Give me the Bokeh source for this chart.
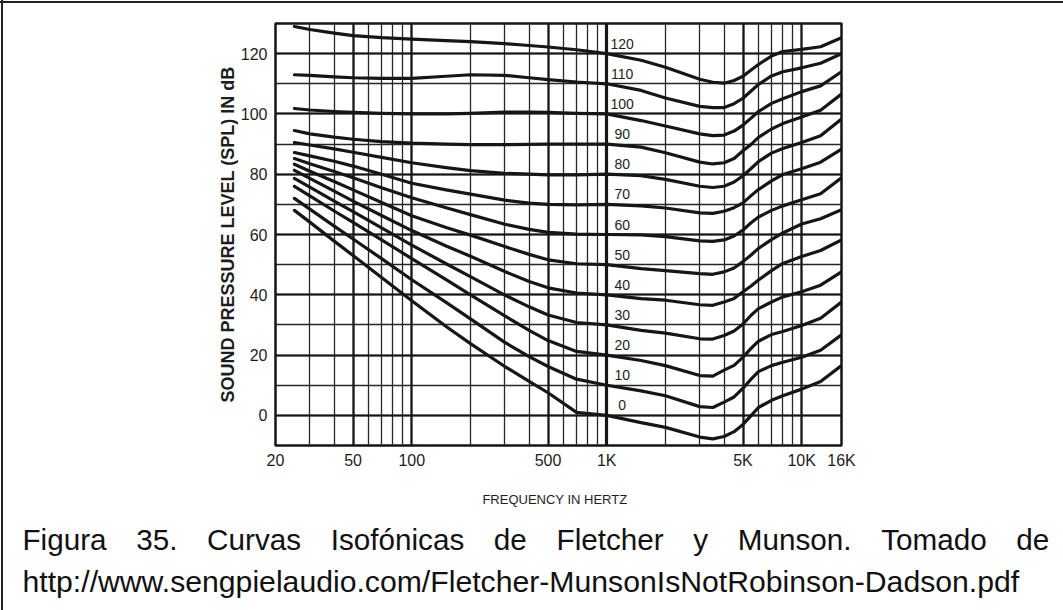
from bokeh.plotting import figure
from bokeh.models import Range1d, FixedTicker, Grid, Title, CustomJSTickFormatter
from bokeh.core.properties import value
from bokeh.embed import file_html
from bokeh.resources import INLINE

# ---------------- data ----------------
freqs = [25, 30, 40, 50, 70, 100, 150, 200, 300, 400, 500, 700, 1000,
         1500, 2000, 3000, 3500, 4000, 4500, 5000, 5500, 6000, 7000, 8000, 10000, 12500, 16000]

phon_120 = [129, 128, 126.8, 126, 125.3, 124.8, 124.3, 124, 123.3, 122.7, 122.2, 121.3, 120,
            117.8, 115.5, 111.5, 110.5, 110.2, 111.1, 112.5, 114.6, 116.4, 119.2, 120.7, 121.4, 122.3, 125.3]
phon_110 = [113, 112.8, 112.3, 112, 111.8, 111.8, 112.5, 113, 112.8, 112, 111.4, 110.6, 110,
            107.8, 105.3, 102.5, 102.1, 102.1, 103.4, 105.2, 107.6, 109.8, 112.6, 114, 115.3, 116.8, 120]
phon_100 = [101.8, 101.3, 100.8, 100.5, 100.2, 100, 100, 100.2, 100.6, 100.6, 100.5, 100.2, 100,
            97.8, 96, 93.4, 92.8, 93, 94.3, 96.3, 98.6, 100.8, 103.5, 105, 107.4, 109.3, 114]
phon_90 = [94.5, 93.4, 92.3, 91.6, 90.8, 90.3, 90, 89.8, 89.8, 89.9, 90, 90, 90,
           89, 87.1, 84, 83.4, 83.8, 85.2, 87.8, 89.9, 92.2, 95, 96.8, 99, 101.2, 106.6]
phon_80 = [90.5, 89.7, 88.4, 87.3, 85.6, 83.8, 82.2, 81.2, 80.3, 80, 79.8, 79.8, 80,
           79.5, 78.3, 76, 75.6, 76, 77.4, 79.5, 81.9, 84.2, 87, 88.5, 90.5, 92.8, 98.3]
phon_70 = [87.2, 86.1, 84.3, 82.7, 80, 77, 74.8, 73.4, 71.4, 70.4, 70, 69.8, 70,
           69.5, 68.8, 67.2, 67, 67.7, 68.9, 70.5, 72.9, 74.9, 77.8, 79.9, 81.8, 84, 88.3]
phon_60 = [85.2, 83.5, 80.9, 78.8, 75.5, 72.2, 68.9, 66.6, 63.4, 61.7, 60.7, 60.1, 60,
           59.9, 59.3, 57.9, 57.7, 58.2, 59.5, 61.5, 63.9, 65.8, 68, 69.5, 71.5, 73.5, 78.8]
phon_50 = [83.3, 81, 77.6, 74.8, 70.6, 66.2, 62.3, 59.8, 56, 53.4, 51.6, 50.3, 50,
           48.7, 48, 47, 46.8, 47.6, 48.9, 51, 53.2, 55.4, 58.3, 60.5, 63.5, 65.2, 68.2]
phon_40 = [81.3, 78.6, 74.4, 71.1, 66.3, 61.3, 56.2, 52.8, 47.7, 44.4, 42.3, 40.6, 40,
           38.7, 38.2, 36.7, 36.5, 37.6, 38.8, 41, 42.9, 44.9, 48, 50.4, 52.7, 54.7, 58.2]
phon_30 = [78.6, 75.7, 71.1, 67.6, 62.2, 56.5, 50.3, 46, 39.9, 36, 33.3, 30.8, 30,
           28.2, 27.3, 25.4, 25.3, 26.5, 28, 30.3, 33.2, 35.4, 37.6, 39.3, 41, 43.2, 47.6]
phon_20 = [76, 72.8, 67.8, 64, 58.2, 52, 45, 40, 33, 28.2, 24.8, 21.2, 20,
           18.2, 16.5, 13.2, 13, 15, 16.6, 19.3, 22.2, 24.6, 26.8, 27.8, 29.8, 32.2, 37.6]
phon_10 = [72, 68.4, 62.8, 58.5, 52, 45, 37.5, 32, 24.2, 19.5, 16.2, 12, 10,
           8.1, 6.5, 2.9, 2.6, 4.4, 6.1, 9, 12, 14.5, 16.5, 17.6, 19.3, 21.6, 26.7]
phon_0 = [68, 64.1, 57.8, 53, 45.7, 38, 29.5, 23.8, 16.2, 11.3, 7.5, 1, 0,
          -2.4, -4, -7.2, -7.8, -7, -5.4, -3, -0.1, 2.6, 5, 6.5, 8.7, 11.2, 16.5]

curves = [(120, phon_120), (110, phon_110), (100, phon_100), (90, phon_90), (80, phon_80),
          (70, phon_70), (60, phon_60), (50, phon_50), (40, phon_40), (30, phon_30),
          (20, phon_20), (10, phon_10), (0, phon_0)]

x_tick_values = [20, 50, 100, 500, 1000, 5000, 10000, 16000]
x_tick_labels = ["20", "50", "100", "500", "1K", "5K", "10K", "16K"]
y_tick_values = [0, 20, 40, 60, 80, 100, 120]
grid_freqs = [20, 30, 40, 50, 60, 70, 80, 90, 100, 200, 300, 400, 500, 600, 700, 800, 900,
              1000, 2000, 3000, 4000, 5000, 6000, 7000, 8000, 9000, 10000]
heavy_freqs = [50, 100, 500, 5000, 10000]
grid_levels = [0, 10, 20, 30, 40, 50, 60, 70, 80, 90, 100, 110, 120]

caption_line1 = ["Figura", "35.", "Curvas", "Isofónicas", "de", "Fletcher", "y",
                 "Munson.", "Tomado", "de"]
caption_line2 = "http://www.sengpielaudio.com/Fletcher-MunsonIsNotRobinson-Dadson.pdf"

# ---------------- layout constants (page pixels) ----------------
W, H = 1063, 610
FL, FT, FW, FH = 275, 23, 566, 422
INK = "#161616"
FONT = "Liberation Sans"
X0, X1, Y0, Y1 = 20, 16000, -10, 130

p = figure(width=W, height=H, x_axis_type="log",
           x_range=Range1d(X0, X1), y_range=Range1d(Y0, Y1),
           output_backend="svg", toolbar_location=None,
           min_border_left=FL, min_border_right=W - FL - FW,
           min_border_top=FT, min_border_bottom=H - FT - FH)
p.background_fill_color = "white"
p.border_fill_color = "white"
p.outline_line_color = INK
p.outline_line_width = 2.5

# grid
p.xgrid.ticker = FixedTicker(ticks=grid_freqs)
p.xgrid.grid_line_color = "#262626"
p.xgrid.grid_line_width = 1.3
p.ygrid.ticker = FixedTicker(ticks=grid_levels)
p.ygrid.grid_line_color = "#262626"
p.ygrid.grid_line_width = 1.5
p.add_layout(Grid(dimension=0, ticker=FixedTicker(ticks=heavy_freqs),
                  grid_line_color=INK, grid_line_width=2.2))
p.add_layout(Grid(dimension=0, ticker=FixedTicker(ticks=[1000]),
                  grid_line_color=INK, grid_line_width=3.2))
p.add_layout(Grid(dimension=1, ticker=FixedTicker(ticks=y_tick_values),
                  grid_line_color=INK, grid_line_width=2.2))

# axes
lbl_map = ",".join(f"{v}:'{t}'" for v, t in zip(x_tick_values, x_tick_labels))
p.xaxis.ticker = FixedTicker(ticks=x_tick_values)
p.xaxis.formatter = CustomJSTickFormatter(
    code="const m={" + lbl_map + "}; const k=Math.round(tick); return (k in m) ? m[k] : '';")
p.yaxis.ticker = FixedTicker(ticks=y_tick_values)
for ax in (p.xaxis[0], p.yaxis[0]):
    ax.axis_line_color = None
    ax.major_tick_line_color = None
    ax.minor_tick_line_color = None
    ax.major_tick_out = 0
    ax.major_tick_in = 0
    ax.minor_tick_out = 0
    ax.major_label_text_font = FONT
    ax.major_label_text_font_size = "16px"
    ax.major_label_text_color = "#1e1e1e"
p.xaxis.major_label_standoff = 6
p.yaxis.major_label_standoff = 8
p.xaxis.axis_label = "FREQUENCY  IN  HERTZ"
p.xaxis.axis_label_text_font = FONT
p.xaxis.axis_label_text_font_style = "normal"
p.xaxis.axis_label_text_font_size = "13px"
p.xaxis.axis_label_text_color = "#1e1e1e"
p.xaxis.axis_label_standoff = 20
p.yaxis.axis_label = "SOUND PRESSURE LEVEL (SPL) IN dB"
p.yaxis.axis_label_text_font = FONT
p.yaxis.axis_label_text_font_style = "bold"
p.yaxis.axis_label_text_font_size = "18px"
p.yaxis.axis_label_text_color = "#1e1e1e"
p.yaxis.axis_label_standoff = 0

# curves
for ph, vals in curves:
    p.line(freqs, vals, line_color=INK, line_width=3.2, line_join="round", line_cap="round")

# curve labels, right of the 1 kHz line
p.text(x=[1200] * len(curves), y=[ph + 3.3 for ph, _ in curves],
       text=[str(ph) for ph, _ in curves], text_align="center", text_baseline="middle",
       text_font=value(FONT), text_font_size="14px", text_color="#1e1e1e")

# caption below the chart: first line justified with em spaces, second line the URL
EM_SPACE = "\u2003"
p.add_layout(Title(text=EM_SPACE.join(caption_line1), align="left", offset=22 - FL,
                   standoff=22, text_font=FONT, text_font_style="normal",
                   text_font_size="29.66px", text_color="#111111"), "below")
p.add_layout(Title(text=caption_line2, align="left", offset=22 - FL,
                   standoff=-7, text_font=FONT, text_font_style="normal",
                   text_font_size="30.2px", text_color="#111111"), "below")

# page frame: top and left rules of the document box
css = ("<style>html,body{margin:0;padding:0;overflow:hidden;}"
       "body::before{content:'';position:fixed;left:0;top:1px;width:100%;height:2px;"
       "background:#222;z-index:1000;pointer-events:none;}"
       "body::after{content:'';position:fixed;left:1px;top:0;width:2px;height:100%;"
       "background:#222;z-index:1000;pointer-events:none;}</style>")
html = file_html(p, INLINE)
html = html.replace("<head>", "<head>" + css, 1)
open("out.html", "w").write(html)
